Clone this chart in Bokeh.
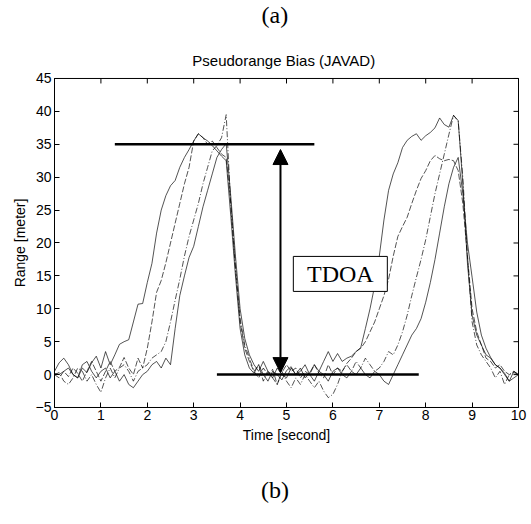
import math
from bokeh.plotting import figure
from bokeh.models import Arrow, NormalHead, FixedTicker, Range1d
from bokeh.core.properties import value
from bokeh.embed import file_html
from bokeh.resources import INLINE

# ---------------- data ----------------
t = [round(0.1 * i, 1) for i in range(101)]

bias_1 = [0.5, 1.8, 2.5, 1.5, 0.0, -0.5, 1.0, 0.3, 1.8, 2.8,
          1.0, 3.5, 1.5, 3.0, 4.6, 5.0, 5.3, 8.0, 10.7, 10.8,
          14.0, 16.9, 21.5, 25.0, 27.2, 28.7, 29.5, 31.5, 33.0, 34.2,
          35.5, 36.6, 36.0, 35.5, 34.8, 34.0, 33.2, 32.5, 24.0, 15.0,
          7.0, 3.0, 1.0, 0.2, 1.5, 0.0, -1.0, 0.5, 0.0, -0.8,
          0.6, 1.2, 0.0, 1.0, -0.5, 0.3, 1.5, 0.5, 2.0, 3.5,
          2.0, 3.2, 2.0, 2.5, 2.8, 3.5, 4.1, 7.0, 10.0, 13.5,
          18.0, 23.5, 28.0, 30.5, 32.2, 34.5, 35.6, 36.2, 36.6, 35.6,
          36.3, 36.8, 37.5, 39.0, 38.0, 37.6, 39.4, 38.6, 29.0, 16.9,
          9.0, 6.0, 4.5, 3.0, 2.5, 1.5, 1.0, 0.2, -1.0, 0.5,
          0.0]

bias_2 = [0.0, -0.5, 0.5, -0.3, 1.0, 0.2, -1.0, 0.5, 2.0, 0.5,
          -1.0, 0.5, 2.0, 0.5, 1.1, 2.6, 1.0, 0.0, 2.5, 1.0,
          4.0, 8.0, 12.5, 14.3, 17.0, 20.0, 23.0, 26.0, 29.0, 31.5,
          35.5, 36.6, 36.0, 35.0, 35.5, 34.5, 33.5, 33.0, 26.0, 16.5,
          8.0, 4.0, 2.0, 0.5, -0.5, 1.0, 0.0, 0.8, -1.5, 0.3,
          1.5, 0.5, 1.0, -0.5, 0.5, 0.0, 1.5, 0.2, -0.5, 1.5,
          0.0, 1.0, 0.5, 1.7, 2.5, 3.5, 4.0, 5.0, 6.5, 8.0,
          10.0, 12.0, 14.5, 18.0, 21.0, 22.5, 23.9, 26.0, 28.0, 29.8,
          31.0, 32.5, 33.3, 32.8, 32.5, 32.7, 32.5, 31.0, 26.0, 18.0,
          10.0, 6.5, 4.5, 2.5, 2.0, 1.0, 1.5, 0.5, 0.0, 0.3,
          0.0]

bias_3 = [0.0, 0.3, -1.0, -1.5, -0.5, 1.0, 0.5, -1.0, 0.0, -1.5,
          -2.7, -0.5, 1.0, -0.5, 1.0, 1.5, 0.5, -1.0, 0.5, 1.0,
          1.5, 2.5, 3.0, 3.5, 5.0, 8.0, 11.3, 14.5, 18.0, 21.0,
          23.5, 26.0, 29.0, 31.5, 34.0, 34.8, 36.0, 39.5, 25.5, 16.0,
          8.5, 4.5, 2.5, 0.5, 1.5, -1.0, 0.5, -0.5, -1.5, 0.5,
          -1.0, -2.0, -0.5, -1.5, 0.0, -1.0, -2.0, -1.0, -2.5, -3.5,
          -3.0, -1.5, 0.5, 1.5, 0.5, 2.0, 1.0, 2.5, 1.5, 0.5,
          1.0, 2.0, 3.5, 3.0, 4.5, 6.5, 9.0, 12.0, 14.8, 17.5,
          20.5, 24.0, 27.5, 30.5, 33.5, 36.5, 39.4, 38.5, 30.0, 18.0,
          8.0, 4.5, 3.0, 2.0, 1.0, -0.5, 0.5, -1.5, 0.0, 0.5,
          0.0]

bias_4 = [0.2, 0.0, 0.5, 1.0, 0.0, -0.5, 1.5, 2.0, 0.5, -0.5,
          0.5, 1.0, -0.5, 0.5, -1.0, 0.0, -1.5, -2.0, -1.0, 0.0,
          0.5, 1.5, 2.0, 1.0, 2.5, 1.5, 7.0, 12.0, 15.0, 17.8,
          19.5, 22.5, 25.5, 28.0, 30.5, 33.0, 34.2, 35.1, 27.0, 18.0,
          10.0, 5.5, 3.0, 1.5, 0.5, 2.0, 0.5, -0.5, 1.0, 0.0,
          -0.5, 1.0, 0.0, 0.5, 1.5, 0.0, -1.0, 0.5, 0.0, -1.0,
          0.5, 1.0, 0.0, -0.5, 0.5, 0.0, 1.0, 0.0, -0.5, 0.5,
          0.0, -1.0, -1.5, 0.0, 1.5, 3.0, 4.5, 6.0, 7.0, 8.5,
          11.0, 14.0, 17.5, 21.5, 25.5, 29.0, 31.5, 33.0, 27.5, 20.0,
          14.8, 9.5, 6.0, 4.0, 2.6, 1.5, 1.0, 0.0, -1.0, -0.5,
          0.0]

series = [bias_1, bias_2, bias_3, bias_4]
dashes = ["solid", "6 2", "6 2 1 2", "solid"]

x_ticks = list(range(0, 11))
y_ticks = list(range(-5, 46, 5))
x_min, x_max = 0, 10
y_min, y_max = -5, 45

title_text = ["Pseudorange Bias (JAVAD)"]
x_label = "Time [second]"
y_label = "Range [meter]"
top_caption = ["(a)"]
bottom_caption = ["(b)"]

# annotation (TDOA) values
upper_level = [35.0]
upper_from = [1.3]
upper_to = [5.6]
lower_level = [0.0]
lower_from = [3.5]
lower_to = [7.85]
arrow_x = 4.87
arrow_y0 = 0.3
arrow_y1 = 34.2
tdoa_label = ["TDOA"]
tdoa_x = [6.16]
tdoa_y = [15.3]

# ---------------- layout (view extends beyond the axes box) ----------------
view_x = (-1.164, 10.28)
view_y = (-22.78, 56.85)
title_pos = ([4.94], [47.7])
top_caption_pos = ([4.75], [54.6])
bottom_caption_pos = ([4.75], [-17.6])

SANS = "Liberation Sans"
SERIF = "Liberation Serif"

p = figure(width=531, height=524, x_range=Range1d(*view_x), y_range=Range1d(*view_y),
           output_backend="svg", toolbar_location=None, min_border=0)
p.title_location = None
p.grid.visible = False
p.outline_line_color = None
p.background_fill_color = "white"
p.border_fill_color = "white"

for ax in (p.xaxis[0], p.yaxis[0]):
    ax.major_tick_in = 5
    ax.major_tick_out = 0
    ax.minor_tick_line_color = None
    ax.axis_line_color = "black"
    ax.major_label_text_font = SANS
    ax.major_label_text_font_size = "14px"
    ax.major_label_text_color = "black"
    ax.axis_label_text_font = SANS
    ax.axis_label_text_font_size = "14px"
    ax.axis_label_text_font_style = "normal"
    ax.axis_label_text_color = "black"

p.xaxis.ticker = FixedTicker(ticks=x_ticks)
p.yaxis.ticker = FixedTicker(ticks=y_ticks)
p.xaxis.bounds = (x_min, x_max)
p.yaxis.bounds = (y_min, y_max)
p.xaxis.fixed_location = y_min
p.yaxis.fixed_location = x_min
p.xaxis.axis_label = x_label
p.yaxis.axis_label = y_label
p.xaxis.major_label_standoff = 3
p.yaxis.major_label_standoff = 3
p.xaxis.axis_label_standoff = 3
p.yaxis.axis_label_standoff = 5

# axes box and mirrored inward ticks on the top and right edges
p.quad(left=[x_min], right=[x_max], bottom=[y_min], top=[y_max],
       fill_color=None, line_color="black", line_width=1)
p.ray(x=x_ticks, y=[y_max] * len(x_ticks), length=5, length_units="screen",
      angle=-math.pi / 2, line_color="black", line_width=1)
p.ray(x=[x_max] * len(y_ticks), y=y_ticks, length=5, length_units="screen",
      angle=math.pi, line_color="black", line_width=1)

for ys, dash in zip(series, dashes):
    p.line(t, ys, line_color="black", line_width=0.8, line_alpha=0.85, line_dash=dash)

# TDOA annotation
p.segment(x0=upper_from, y0=upper_level, x1=upper_to, y1=upper_level,
          line_color="black", line_width=2.5)
p.segment(x0=lower_from, y0=lower_level, x1=lower_to, y1=lower_level,
          line_color="black", line_width=2.5)
p.add_layout(Arrow(start=NormalHead(size=15, fill_color="black", line_color="black"),
                   end=NormalHead(size=15, fill_color="black", line_color="black"),
                   x_start=arrow_x, y_start=arrow_y0, x_end=arrow_x, y_end=arrow_y1,
                   line_width=2, line_color="black"))
p.rect(x=tdoa_x, y=tdoa_y, width=94, height=35, width_units="screen", height_units="screen",
       fill_color="white", line_color="black", line_width=1)
p.text(x=tdoa_x, y=tdoa_y, text=tdoa_label, text_font=value(SERIF), text_font_size="24px",
       text_align="center", text_baseline="middle", text_color="black")

# title and captions
p.text(x=title_pos[0], y=title_pos[1], text=title_text, text_font=value(SANS),
       text_font_size="15px", text_align="center", text_baseline="middle", text_color="black")
p.text(x=top_caption_pos[0], y=top_caption_pos[1], text=top_caption, text_font=value(SERIF),
       text_font_size="24px", text_align="center", text_baseline="middle", text_color="black")
p.text(x=bottom_caption_pos[0], y=bottom_caption_pos[1], text=bottom_caption, text_font=value(SERIF),
       text_font_size="24px", text_align="center", text_baseline="middle", text_color="black")

open("out.html", "w").write(file_html(p, INLINE))
